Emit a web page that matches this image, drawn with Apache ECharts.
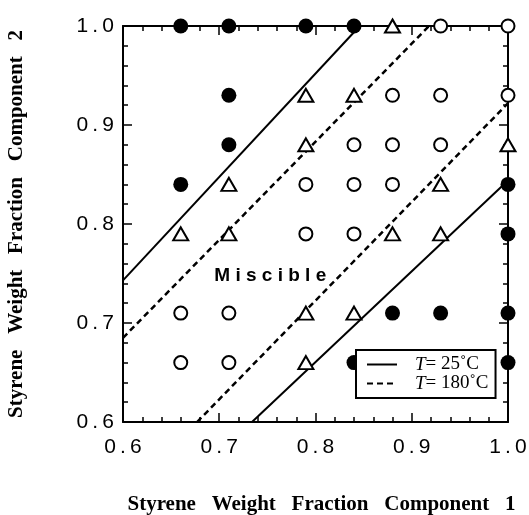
<!DOCTYPE html>
<html>
<head>
<meta charset="utf-8">
<script src="https://cdn.jsdelivr.net/npm/echarts@6/dist/echarts.min.js"></script>
<style>
  html, body { margin: 0; padding: 0; background: #fff; }
  #main { width: 529px; height: 515px; }
</style>
</head>
<body>
<div id="main"></div>
<script>
// 坐标轴刻度
const axisMin = 0.6;
const axisMax = 1.0;
const axisStep = 0.1;

// 数据点 [组分1, 组分2]
const filledPts = [[0.66, 1.0], [0.71, 1.0], [0.79, 1.0], [0.84, 1.0], [0.71, 0.93], [0.71, 0.88],
    [0.66, 0.84], [1.0, 0.84], [1.0, 0.79], [0.88, 0.71], [0.93, 0.71], [1.0, 0.71], [0.84, 0.66], [1.0, 0.66]];
const trianglePts = [[0.88, 1.0], [0.79, 0.93], [0.84, 0.93], [0.79, 0.88], [1.0, 0.88], [0.71, 0.84],
    [0.93, 0.84], [0.66, 0.79], [0.71, 0.79], [0.88, 0.79], [0.93, 0.79], [0.79, 0.71], [0.84, 0.71], [0.79, 0.66]];
const openPts = [[0.93, 1.0], [1.0, 1.0], [0.88, 0.93], [0.93, 0.93], [1.0, 0.93], [0.84, 0.88], [0.88, 0.88],
    [0.93, 0.88], [0.79, 0.84], [0.84, 0.84], [0.88, 0.84], [0.79, 0.79], [0.84, 0.79], [0.66, 0.71],
    [0.71, 0.71], [0.66, 0.66], [0.71, 0.66]];

// 边界线
const solidUpper = [[0.6, 0.743], [0.846, 1.0]];
const solidLower = [[0.734, 0.6], [1.0, 0.844]];
const dashUpper = [[0.6, 0.685], [0.918, 1.0]];
const dashLower = [[0.677, 0.6], [1.0, 0.922]];

const labelPos = [[0.753, 0.748]];

const names = ['T= 25˚C', 'T= 180˚C'];

let chart = echarts.init(document.getElementById('main'));

function spaced(v) {
    return v.toFixed(1).split('').join('\u2009');
}

function makeAxis(pos, showLabel, name) {
    return {
        type: 'value',
        position: pos,
        min: axisMin,
        max: axisMax,
        interval: axisStep,
        name: name || '',
        nameLocation: 'middle',
        nameGap: (pos === 'bottom') ? 72 : 96,
        nameRotate: (pos === 'left') ? 90 : 0,
        nameTextStyle: {
            fontFamily: 'Liberation Serif',
            fontWeight: 'bold',
            fontSize: 21,
            color: '#000',
            padding: (pos === 'bottom') ? [0, 0, 0, 12] : [0, 0, 0, 0]
        },
        axisLine: { show: true, onZero: false, lineStyle: { color: '#000', width: 2 } },
        axisTick: { show: true, inside: true, length: 9, lineStyle: { color: '#000', width: 1.5 } },
        minorTick: { show: true, splitNumber: 5, length: 5, lineStyle: { color: '#000', width: 1.5 } },
        splitLine: { show: false },
        axisLabel: {
            show: showLabel,
            margin: (pos === 'bottom') ? 15 : 9,
            fontFamily: 'Liberation Sans',
            fontSize: 21,
            color: '#000',
            formatter: spaced
        }
    };
}

function lineSeries(name, data, dashed) {
    return {
        name: name,
        type: 'line',
        data: data,
        symbol: 'none',
        silent: true,
        z: 3,
        lineStyle: { color: '#000', width: dashed ? 2.5 : 2, type: dashed ? [6, 4] : 'solid' },
        itemStyle: { color: '#000' }
    };
}

const title = 'Styrene   Weight   Fraction   Component   ';

let option = {
    backgroundColor: '#fff',
    animation: false,
    grid: { left: 123, right: 21, top: 26, bottom: 93, outerBoundsMode: 'none' },
    xAxis: [
        makeAxis('bottom', true, title + '1'),
        makeAxis('top', false)
    ],
    yAxis: [
        makeAxis('left', true, title + '2'),
        makeAxis('right', false)
    ],
    legend: {
        data: names,
        orient: 'vertical',
        left: 356,
        top: 350,
        z: 10,
        backgroundColor: '#fff',
        borderColor: '#000',
        borderWidth: 2,
        borderRadius: 0,
        padding: [5, 7, 5, 10],
        itemGap: 0,
        itemWidth: 30,
        itemHeight: 19,
        itemStyle: { opacity: 0 },
        textStyle: {
            fontFamily: 'Liberation Serif',
            fontSize: 19,
            color: '#000',
            padding: [0, 0, 0, 13],
            rich: {
                i: { fontFamily: 'Liberation Serif', fontSize: 19, fontStyle: 'italic', color: '#000' }
            }
        },
        formatter: function (name) {
            return '{i|T}' + name.slice(1);
        }
    },
    series: [
        lineSeries(names[0], solidUpper, false),
        lineSeries(names[0], solidLower, false),
        lineSeries(names[1], dashUpper, true),
        lineSeries(names[1], dashLower, true),
        {
            type: 'scatter',
            data: filledPts,
            symbol: 'circle',
            symbolSize: 15,
            clip: false,
            z: 4,
            itemStyle: { color: '#000', opacity: 1 }
        },
        {
            type: 'scatter',
            data: openPts,
            symbol: 'circle',
            symbolSize: 13,
            clip: false,
            z: 4,
            itemStyle: { color: '#fff', borderColor: '#000', borderWidth: 2, opacity: 1 }
        },
        {
            type: 'scatter',
            data: trianglePts,
            symbol: 'triangle',
            symbolSize: [15, 13],
            clip: false,
            z: 4,
            itemStyle: { color: '#fff', borderColor: '#000', borderWidth: 2, opacity: 1 }
        },
        {
            type: 'scatter',
            data: labelPos,
            symbolSize: 0,
            silent: true,
            itemStyle: { color: '#000', opacity: 1 },
            label: {
                show: true,
                position: 'inside',
                formatter: 'M i s c i b l e',
                fontFamily: 'Liberation Sans',
                fontWeight: 'bold',
                fontSize: 19,
                color: '#000',
                opacity: 1
            }
        }
    ]
};

chart.setOption(option);
</script>
</body>
</html>
